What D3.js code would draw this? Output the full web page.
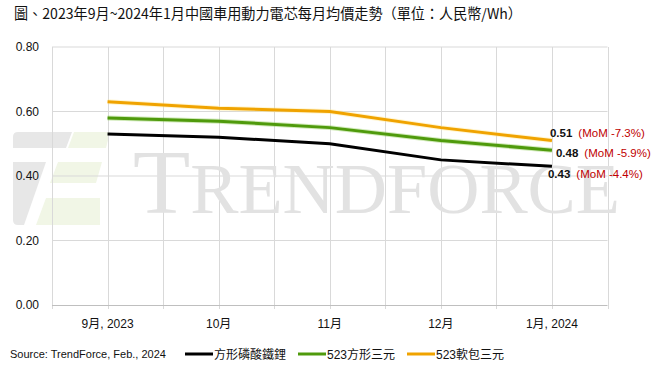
<!DOCTYPE html>
<html>
<head>
<meta charset="utf-8">
<script src="https://cdn.jsdelivr.net/npm/d3@7"></script>
<style>
  html, body { margin: 0; padding: 0; background: #fff; }
  svg { display: block; font-family: "Liberation Sans", Arial, "Noto Sans CJK TC", sans-serif; }
</style>
</head>
<body>
<svg id="chart"></svg>
<script>
// chart data
const months = ['9月, 2023', '10月', '11月', '12月', '1月, 2024'];
const lfpPrism = [0.53, 0.52, 0.50, 0.45, 0.43];
const ncmPrism = [0.58, 0.57, 0.55, 0.51, 0.48];
const ncmPouch = [0.63, 0.61, 0.60, 0.55, 0.51];
const seriesNames = ['方形磷酸鐵鋰', '523方形三元', '523軟包三元'];
const lastLabels = ['0.43', '0.48', '0.51'];
const momLabels = ['(MoM -4.4%)', '(MoM -5.9%)', '(MoM -7.3%)'];
const yTicks = [0, 0.2, 0.4, 0.6, 0.8];

const width = 656, height = 365;
const plot = { left: 52, right: 607.5, top: 47, bottom: 305 };

const svg = d3.select('#chart')
  .attr('width', width)
  .attr('height', height);

// Title
svg.append('text')
  .attr('x', 14)
  .attr('y', 19)
  .attr('font-family', '"Noto Sans CJK TC", sans-serif')
  .attr('font-size', 14.5)
  .attr('textLength', 508)
  .attr('lengthAdjust', 'spacingAndGlyphs')
  .attr('fill', '#111')
  .text('圖、2023年9月~2024年1月中國車用動力電芯每月均價走勢（單位：人民幣/Wh）');

// Scales
const x = d3.scaleBand().domain(months).range([plot.left, plot.right]);
const cx = d => x(d) + x.bandwidth() / 2;
const y = d3.scaleLinear().domain([0, 0.8]).range([plot.bottom, plot.top]);

// Watermark logo (faint)
const logo = svg.append('g');
logo.append('path')
  .attr('d', 'M18,132 H72 L66,148 H13 V137 Q13,132 18,132 Z')
  .attr('fill', '#e7e7e7');
logo.append('path')
  .attr('d', 'M74,132 H110 L106,148 H68 Z')
  .attr('fill', '#f1f6e6');
logo.append('path')
  .attr('d', 'M13,162 H46 L24,225 H18 Q13,225 13,220 Z')
  .attr('fill', '#e7e7e7');
logo.append('path')
  .attr('d', 'M58,162 H102 L96,183 H50 Z M46,198 H100 V225 H36 Z')
  .attr('fill', '#f1f6e6');

// Grid lines
const grid = svg.append('g');
grid.selectAll('line.h')
  .data(yTicks.slice(1))
  .join('line')
  .attr('x1', plot.left).attr('x2', plot.right)
  .attr('y1', d => y(d)).attr('y2', d => y(d))
  .attr('stroke', '#d9d9d9').attr('stroke-width', 1);

const vPos = [];
months.forEach(m => { vPos.push(x(m)); vPos.push(cx(m)); });
vPos.push(plot.right);
grid.selectAll('line.v')
  .data(vPos)
  .join('line')
  .attr('x1', d => Math.round(d) + 0.5).attr('x2', d => Math.round(d) + 0.5)
  .attr('y1', plot.top).attr('y2', plot.bottom + 4)
  .attr('stroke', '#d9d9d9').attr('stroke-width', 1);

// Watermark text
svg.append('text')
  .attr('x', 133)
  .attr('y', 213)
  .attr('font-family', '"Liberation Serif", "DejaVu Serif", serif')
  .attr('fill', '#e2e2e2')
  .attr('textLength', 487)
  .attr('lengthAdjust', 'spacingAndGlyphs')
  .call(t => {
    t.append('tspan').attr('font-size', 92).text('T');
    t.append('tspan').attr('font-size', 71).text('RENDFORCE');
  });

// Axes
const yAxis = d3.axisLeft(y).tickValues(yTicks).tickFormat(d3.format('.2f')).tickSize(0).tickPadding(13);
svg.append('g')
  .attr('transform', `translate(${plot.left},0)`)
  .call(yAxis)
  .call(g => g.select('.domain').remove())
  .call(g => g.selectAll('text').attr('font-size', 12).attr('fill', '#111')
    .attr('font-family', '"Liberation Sans", Arial, sans-serif'));

svg.append('line')
  .attr('x1', plot.left).attr('x2', plot.right)
  .attr('y1', plot.bottom + 0.5).attr('y2', plot.bottom + 0.5)
  .attr('stroke', '#bfbfbf');

const xAxis = d3.axisBottom(x).tickSize(0).tickPadding(14);
svg.append('g')
  .attr('transform', `translate(0,${plot.bottom})`)
  .call(xAxis)
  .call(g => g.select('.domain').remove())
  .call(g => g.selectAll('text').attr('font-size', 12).attr('fill', '#111')
    .attr('font-family', '"Liberation Sans", Arial, "Noto Sans CJK TC", sans-serif'));

// Lines
const series = [
  { values: lfpPrism, color: '#000000', glow: null },
  { values: ncmPrism, color: '#4f9a0c', glow: '#7cc43a' },
  { values: ncmPouch, color: '#f0a300', glow: '#ffe680' }
];
const line = d3.line().x((d, i) => cx(months[i])).y(d => y(d));

series.forEach(s => {
  if (s.glow) {
    svg.append('path')
      .attr('d', line(s.values))
      .attr('fill', 'none')
      .attr('stroke', s.glow)
      .attr('stroke-opacity', 0.35)
      .attr('stroke-width', 5);
  }
  svg.append('path')
    .attr('d', line(s.values))
    .attr('fill', 'none')
    .attr('stroke', s.color)
    .attr('stroke-width', 3);
});

// End labels
const labelOffsets = [{ dx: -4, dy: 12 }, { dx: 4, dy: 7 }, { dx: -2, dy: -4 }];
const last = months.length - 1;
series.forEach((s, i) => {
  const t = svg.append('text')
    .attr('x', cx(months[last]) + labelOffsets[i].dx)
    .attr('y', y(s.values[last]) + labelOffsets[i].dy)
    .attr('font-size', 11.5);
  t.append('tspan').attr('font-weight', 'bold').attr('fill', '#111').text(lastLabels[i]);
  t.append('tspan').attr('dx', 6).attr('fill', '#c00000').text(momLabels[i]);
});

// Source
svg.append('text')
  .attr('x', 10)
  .attr('y', 358)
  .attr('font-size', 11)
  .attr('fill', '#111')
  .text('Source: TrendForce, Feb., 2024');

// Legend
const legendX = [185, 298, 407];
const legend = svg.append('g');
series.forEach((s, i) => {
  legend.append('line')
    .attr('x1', legendX[i]).attr('x2', legendX[i] + 28)
    .attr('y1', 354).attr('y2', 354)
    .attr('stroke', s.color).attr('stroke-width', 3);
  legend.append('text')
    .attr('x', legendX[i] + 29)
    .attr('y', 358.5)
    .attr('font-size', 12)
    .attr('fill', '#111')
    .attr('font-family', '"Liberation Sans", Arial, "Noto Sans CJK TC", sans-serif')
    .text(seriesNames[i]);
});
</script>
</body>
</html>
